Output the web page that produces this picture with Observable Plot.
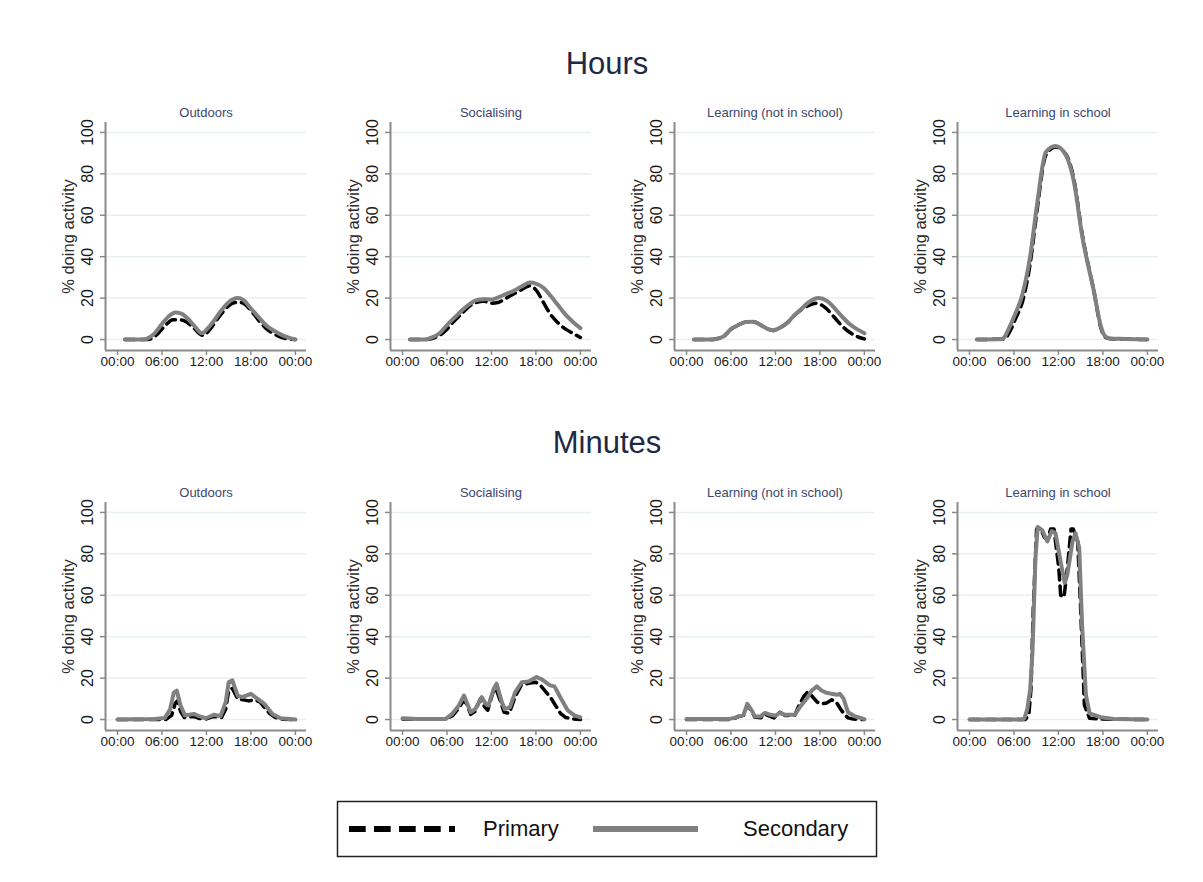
<!DOCTYPE html>
<html>
<head>
<meta charset="utf-8">
<script src="https://cdn.jsdelivr.net/npm/d3@7"></script>
<script src="https://cdn.jsdelivr.net/npm/@observablehq/plot@0.6"></script>
<style>
  html, body { margin: 0; padding: 0; background: #fff; }
  #root { position: relative; width: 1203px; height: 882px; font-family: "Liberation Sans", Arial, sans-serif; overflow: hidden; }
  .main-title { position: absolute; left: 0; width: 1214px; height: 40px; line-height: 40px; text-align: center; font-size: 31px; color: #1e2a44; }
  .panel { position: absolute; }
  .panel svg { overflow: visible; }
</style>
</head>
<body>
<div id="root"></div>
<script>
// ---------- data ----------
const rowTitles = ["Hours", "Minutes"];
const activities = ["Outdoors", "Socialising", "Learning (not in school)", "Learning in school"];
const seriesNames = ["Primary", "Secondary"];
const xTicks = [0, 6, 12, 18, 24];
const xTickLabels = ["00:00", "06:00", "12:00", "18:00", "00:00"];
const yTicks = [0, 20, 40, 60, 80, 100];
const yTitle = "% doing activity";

// [hour of day, % doing activity]
const outdoorsHoursPrimary = [[1,0],[4,0],[4.6,0.5],[5.5,3],[6.5,7],[7.5,9.5],[8.3,9.5],[9.3,8.5],[10.3,5.5],[11.5,2],[12.5,5],[13.5,10],[14.5,14.5],[15.5,17.5],[16.4,18],[17.2,17],[18,14],[19,9.5],[20,5.5],[21,3],[22,1.2],[23,0.3],[24,0]];
const outdoorsHoursSecondary = [[1,0],[3.5,0],[4.3,1],[5,3],[6,7.5],[7,11.5],[7.8,13],[8.6,12.5],[9.5,10],[10.5,6],[11.4,3],[12.2,5.5],[13,9],[14,14],[15,18],[16.2,20],[17,19],[18,15],[19,11],[20,7],[21,4.5],[22,2.5],[23,1],[24,0]];
const socialHoursPrimary = [[1,0],[3,0],[4,0.5],[5,2],[6,5],[7,9],[8,12.5],[9,16],[10,18],[11,18.5],[12,17.5],[13,18],[14,20],[15,22],[16,24],[17.2,26],[18,24],[19,18],[20,12],[21,8],[22,5],[23,3],[24,1]];
const socialHoursSecondary = [[1,0],[3,0],[4,1],[5,3],[6,7],[7,10.5],[8,14],[9,17],[10,19],[11,19.5],[12,19.3],[13,20.5],[14,22],[15,23.5],[16,25.5],[17.2,27.5],[18,27],[19,25],[20,21],[21,16.5],[22,12],[23,8.5],[24,5.5]];
const learnHoursPrimary = [[1,0],[3,0],[4,0.3],[5,1.5],[6,5],[7,7],[8,8.5],[9,8.6],[10,7],[11,5],[11.7,4.4],[12.5,5.5],[13.7,8.4],[14.5,11.5],[15.5,14.5],[16.5,16.5],[17.5,17.5],[18.5,16],[19,14.5],[20,10.5],[21,6.5],[22,3.5],[23,1.5],[24,0.3]];
const learnHoursSecondary = [[1,0],[3,0],[4,0.3],[5,1.5],[6,5],[7,7],[8,8.5],[9,8.6],[10,7],[11,5],[11.7,4.4],[12.5,5.5],[13.7,8.4],[14.5,11.5],[15.5,14.8],[16.5,18],[17.8,20],[19,18.5],[20,15],[21,11],[22,7.5],[23,5],[24,3]];
const schoolHoursPrimary = [[1,0],[4.6,0.2],[5.6,5],[6.2,10],[7.2,19],[8.2,37],[9.1,62],[10.3,89],[11.6,93],[13,89.5],[14.1,77],[15.2,51],[16.8,23],[17.7,6],[18.3,1.2],[19,0.4],[21,0.2],[24,0]];
const schoolHoursSecondary = [[1,0],[4.4,0.3],[5.5,6.8],[6,11],[7.1,21.3],[8.2,40.6],[9.1,64.8],[10.3,90.6],[11.6,93.5],[13,89],[14.1,76],[15.2,50],[16.8,23],[17.7,6.8],[18.3,1.6],[19,0.5],[21,0.3],[24,0]];

const outdoorsMinutesPrimary = [[0,0],[6.5,0],[7.3,2],[7.8,8],[8.1,9],[8.5,4],[9,1],[10.3,1.5],[11,0.5],[12,0.3],[13,1.5],[14,0.8],[14.6,5],[15,14],[15.5,15],[16.2,10],[17,9.5],[17.7,9],[18.5,9.5],[19.2,8.5],[19.8,6],[20.5,3],[21.3,1],[22,0.2],[24,0]];
const outdoorsMinutesSecondary = [[0,0],[5,0.3],[6.4,0.8],[7.1,5],[7.6,13],[8,14],[8.5,6.8],[9.1,2],[10.3,2.7],[11,1.6],[11.9,0.6],[13,2.3],[13.9,1.6],[14.6,8.4],[15,18],[15.5,18.9],[16.2,11.6],[16.8,10.8],[18,12.4],[18.9,10],[19.8,7.6],[20.9,2.7],[22,0.6],[24,0]];
const socialMinutesPrimary = [[0,0.3],[6,0.3],[6.8,2],[7.6,5.5],[8.2,9],[8.6,8],[9.2,2.5],[9.8,4],[10.5,10],[11.1,6],[11.5,4.5],[12.2,13],[12.6,15],[13.2,9],[13.7,3.5],[14.4,3],[15.2,11],[16,16.5],[17,17.5],[18,18],[18.6,16.5],[19.2,14],[20,10.5],[20.7,6.5],[21.3,3],[22,1],[23,0.3],[24,0]];
const socialMinutesSecondary = [[0,0.6],[2,0.3],[5.8,0.2],[6.7,2.7],[7.6,6.8],[8.3,11.6],[9.2,3.5],[9.8,5],[10.7,10.8],[11.2,7.6],[11.6,6.8],[12.3,14.8],[12.7,17.3],[13.4,8.4],[13.8,5],[14.5,6],[15.2,13.2],[16.1,18],[17,18.4],[18.1,20.5],[18.8,19.4],[19.9,16.5],[20.5,16],[21.4,10],[22.3,4.4],[23.2,2],[24,1]];
const learnMinutesPrimary = [[0,0],[5.6,0],[6.5,0.6],[7,1.4],[7.7,2],[8.2,7],[8.8,4],[9.2,1.2],[10,0.8],[10.6,2.5],[11.3,1.5],[11.8,0.8],[12.6,3.5],[13.3,2],[14.6,2],[15.2,7],[15.8,11],[16.4,13.5],[17,11],[17.6,8.5],[18.2,7.5],[18.9,8],[19.6,9.5],[20.2,8.5],[20.8,5],[21.3,2.5],[21.8,0.8],[22.5,0.2],[24,0]];
const learnMinutesSecondary = [[0,0.2],[5.6,0.2],[6.5,0.8],[7,1.6],[7.7,2.3],[8.2,7.6],[8.8,4.4],[9.2,1.6],[10,1.5],[10.6,3.2],[11.3,2.3],[12,1.8],[12.6,3.2],[13.3,2.3],[14.6,2.3],[15.3,6],[16.2,10],[16.9,14],[17.6,16],[18.2,14],[18.9,12.9],[19.6,12.4],[20.3,12],[20.7,12.4],[21.2,10],[21.8,3.5],[22.7,1.6],[23.9,0.3],[24,0.2]];
const schoolMinutesPrimary = [[0,0],[7.5,0],[8,2],[8.3,15],[8.6,53],[9.05,92],[9.6,92],[10.1,88],[10.5,87],[10.95,92],[11.4,92],[12.05,73],[12.3,60],[12.75,59],[13.2,73],[13.7,92],[14,92],[14.6,86],[15,53],[15.5,7],[16.2,0.6],[18,0.2],[24,0]];
const schoolMinutesSecondary = [[0,0],[7,0],[7.4,0.5],[7.8,5],[8.2,15],[8.5,33],[8.9,78],[9.2,93],[9.8,91.5],[10.5,86],[11.1,91],[11.6,90],[12.3,76],[12.85,66],[13.2,70],[13.9,86],[14.3,90],[14.8,83],[15.2,45],[15.7,12],[16.2,3],[17.7,1.1],[19.5,0.3],[24,0]];

// ---------- layout ----------
const FONT = "'Liberation Sans', Arial, sans-serif";
const xDomain = [-1.62, 25.5];
const yDomain = [-5.3, 104.8];
const colFrameLeft = [105, 390, 674, 957];
const rowTop = [95, 475];
const titleTop = [44, 423];
const ML = 70, MR = 10, MT = 27, MB = 30, FW = 201, FH = 228;

const rows = [
  { curve: "monotone-x", panels: [
    [outdoorsHoursPrimary, outdoorsHoursSecondary],
    [socialHoursPrimary, socialHoursSecondary],
    [learnHoursPrimary, learnHoursSecondary],
    [schoolHoursPrimary, schoolHoursSecondary]] },
  { curve: "linear", panels: [
    [outdoorsMinutesPrimary, outdoorsMinutesSecondary],
    [socialMinutesPrimary, socialMinutesSecondary],
    [learnMinutesPrimary, learnMinutesSecondary],
    [schoolMinutesPrimary, schoolMinutesSecondary]] }
];

const root = document.getElementById("root");

function panel(title, primary, secondary, curve) {
  return Plot.plot({
    width: ML + FW + MR,
    height: MT + FH + MB,
    marginLeft: ML, marginRight: MR, marginTop: MT, marginBottom: MB,
    x: { domain: xDomain },
    y: { domain: yDomain },
    style: { fontFamily: FONT, background: "transparent", overflow: "visible", color: "#111" },
    marks: [
      Plot.gridY(yTicks, { stroke: "#e8f0f2", strokeOpacity: 1, strokeWidth: 1.5 }),
      Plot.axisY({ ticks: yTicks, tickSize: 5, fill: "none", stroke: "#8a8a8a", strokeWidth: 1.5, label: null }),
      Plot.axisX({ ticks: xTicks, tickFormat: d => xTickLabels[xTicks.indexOf(d)], tickSize: 5, tickPadding: 1, fontSize: 13.5, stroke: "#8a8a8a", strokeWidth: 1.5, fill: "#1a1a1a", label: null }),
      Plot.ruleX([xDomain[0]], { stroke: "#8a8a8a", strokeWidth: 2 }),
      Plot.ruleY([yDomain[0]], { stroke: "#8a8a8a", strokeWidth: 2 }),
      Plot.text(yTicks, { y: d => d, text: d => String(d), frameAnchor: "left", textAnchor: "middle", lineAnchor: "middle", rotate: -90, dx: -18, fontSize: 16, fill: "#1a1a1a" }),
      Plot.text([yTitle], { frameAnchor: "left", textAnchor: "middle", lineAnchor: "middle", rotate: -90, dx: -37, fontSize: 16.5, fill: "#2e2a2a" }),
      Plot.text([title], { frameAnchor: "top", textAnchor: "middle", lineAnchor: "middle", dy: -10, fontSize: 13, fill: "#3b4670" }),
      Plot.line(primary, { x: d => d[0], y: d => d[1], stroke: "#000", strokeWidth: 3.5, strokeDasharray: "10,6", curve }),
      Plot.line(secondary, { x: d => d[0], y: d => d[1], stroke: "#808080", strokeWidth: 4, curve })
    ]
  });
}

rows.forEach((row, r) => {
  const t = document.createElement("div");
  t.className = "main-title";
  t.style.top = titleTop[r] + "px";
  t.textContent = rowTitles[r];
  root.appendChild(t);
  row.panels.forEach(([p, s], c) => {
    const wrap = document.createElement("div");
    wrap.className = "panel";
    wrap.style.left = (colFrameLeft[c] - ML) + "px";
    wrap.style.top = rowTop[r] + "px";
    wrap.appendChild(panel(activities[c], p, s, row.curve));
    root.appendChild(wrap);
  });
});

// ---------- legend ----------
const ns = "http://www.w3.org/2000/svg";
const leg = document.createElementNS(ns, "svg");
leg.setAttribute("width", 1203);
leg.setAttribute("height", 882);
leg.style.position = "absolute";
leg.style.left = "0px";
leg.style.top = "0px";
leg.style.pointerEvents = "none";
leg.innerHTML = `
  <rect x="337.5" y="801.5" width="539" height="55" fill="none" stroke="#222" stroke-width="1.5"/>
  <line x1="349" y1="829" x2="455" y2="829" stroke="#000" stroke-width="6" stroke-dasharray="16.7,8.3"/>
  <text x="483" y="830" dominant-baseline="middle" font-size="22" font-family="${FONT}" fill="#111">${seriesNames[0]}</text>
  <line x1="593" y1="829" x2="698" y2="829" stroke="#808080" stroke-width="6"/>
  <text x="743" y="830" dominant-baseline="middle" font-size="22" font-family="${FONT}" fill="#111">${seriesNames[1]}</text>
`;
root.appendChild(leg);
</script>
</body>
</html>
